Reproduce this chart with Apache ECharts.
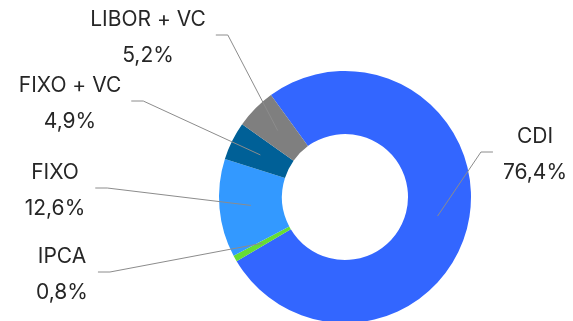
<!DOCTYPE html>
<html>
<head>
<meta charset="utf-8">
<script src="https://cdn.jsdelivr.net/npm/echarts@6/dist/echarts.min.js"></script>
<style>
  html, body { margin: 0; padding: 0; background: #fff; }
  #chart { width: 573px; height: 321px; }
</style>
</head>
<body>
<div id="chart"></div>
<script>
// Composição por indexador (%)
const categories = ['CDI', 'IPCA', 'FIXO', 'FIXO + VC', 'LIBOR + VC'];
const shares = [76.4, 0.8, 12.6, 4.9, 5.2];
const colors = ['#3366FF', '#66DD33', '#3399FF', '#006097', '#7F7F7F'];

// Where each two-line label block is centred, and which side it sits on
const labelSpots = [
  { x: 535, y: 155, side: 'right' },
  { x: 62, y: 275, side: 'left' },
  { x: 55, y: 191, side: 'left' },
  { x: 70, y: 104, side: 'left' },
  { x: 148, y: 38, side: 'left' }
];

const fmt = v => v.toFixed(1).replace('.', ',') + '%';

const chart = echarts.init(document.getElementById('chart'), null, { renderer: 'canvas' });

function ringPoint(idx) {
  // middle of the ring at the slice's mid-angle, taken from the pie's own layout
  const data = chart.getModel().getSeriesByIndex(0).getData();
  const l = data.getItemLayout(idx);
  const a = (l.startAngle + l.endAngle) / 2;
  const r = (l.r + l.r0) / 2;
  return [l.cx + r * Math.cos(a), l.cy + r * Math.sin(a)];
}

// leader lines collected while the labels are placed, drawn on top of the ring
const leaders = [];

chart.setOption({
  animation: false,
  backgroundColor: '#ffffff',
  series: [{
    type: 'pie',
    center: [345, 197],
    radius: [63, 126],
    startAngle: 126,
    clockwise: true,
    avoidLabelOverlap: false,
    data: categories.map((name, i) => ({
      name,
      value: shares[i],
      itemStyle: { color: colors[i] }
    })),
    label: {
      show: true,
      position: 'outside',
      formatter: p => p.name + '\n' + fmt(p.value),
      fontFamily: 'Inter',
      fontSize: 21,
      lineHeight: 36,
      color: '#262626'
    },
    labelLine: { show: false },
    labelLayout: params => {
      const s = labelSpots[params.dataIndex];
      const w = params.labelRect.width;
      const dir = s.side === 'left' ? 1 : -1;
      const endX = s.x + dir * (w / 2 + 10);
      const elbowX = endX + dir * 12;
      const lineY = s.y - 3;
      leaders[params.dataIndex] = [ringPoint(params.dataIndex), [elbowX, lineY], [endX, lineY]];
      return {
        x: s.x,
        y: s.y,
        align: 'center',
        verticalAlign: 'middle'
      };
    }
  }]
});

chart.setOption({
  graphic: leaders.map(pts => ({
    type: 'polyline',
    z: 100,
    silent: true,
    shape: { points: pts },
    style: { stroke: '#8C8C8C', lineWidth: 1, fill: null }
  }))
});
</script>
</body>
</html>
